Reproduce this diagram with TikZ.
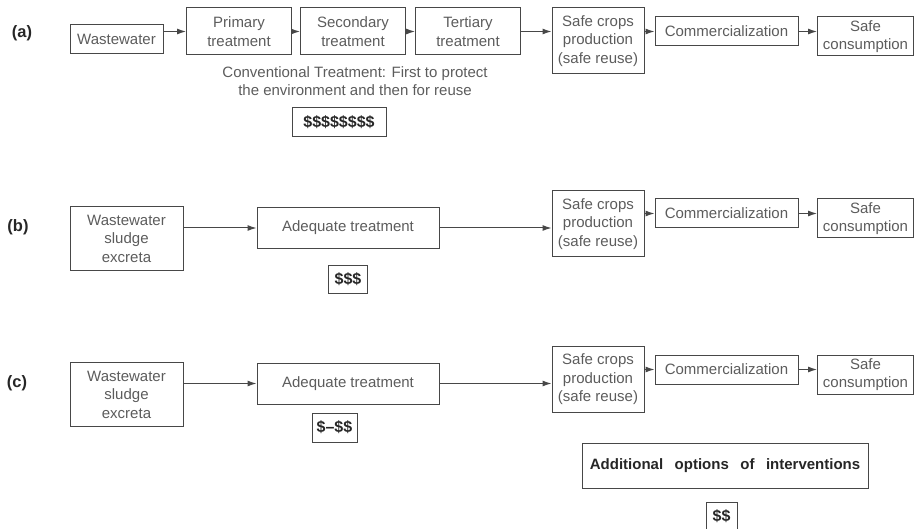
\documentclass[tikz,border=0pt]{standalone}
\usepackage{fontspec}
\setmainfont{Liberation Sans}
\usepackage{tikz}
\usetikzlibrary{positioning, arrows.meta}

\definecolor{boxline}{HTML}{474747}
\definecolor{boxtext}{HTML}{5C5C5C}

\tikzset{
  box/.style={draw=boxline, line width=1pt, inner sep=0pt, align=center,
    text=boxtext, font=\fontsize{15}{18.5}\selectfont},
  cost/.style={draw=boxline, line width=1pt, inner sep=0pt, minimum height=28pt,
    text=black!85, font=\bfseries\fontsize{16}{18}\selectfont},
  tag/.style={text=black!85, font=\bfseries\fontsize{16.5}{18}\selectfont},
  flow/.style={-{Latex[length=9pt,width=6pt]}, draw=boxline, line width=1pt},
  wse/.style={box, minimum width=113pt, minimum height=64pt},
  adq/.style={box, minimum width=182pt, minimum height=41pt},
  crops/.style={box, minimum width=92pt, minimum height=66pt},
  comm/.style={box, minimum width=143pt, minimum height=29pt},
  cons/.style={box, minimum width=96pt, minimum height=39pt},
  treat/.style={box, minimum width=105pt, minimum height=47pt}
}

\begin{document}
\begin{tikzpicture}[x=1pt, y=-1pt]
   \useasboundingbox (0,0) rectangle (915,529);
   % (a) conventional chain
   \node[tag] (tag_a) at (22,33) {(a)};
   \node[box, minimum width=93pt, minimum height=29pt] (ww_a) at (116.5,39.5) {Wastewater};
   \node[treat] (prim_a) at (239,31.5) {Primary\\treatment};
   \node[treat] (sec_a) at (353,31.5) {Secondary\\treatment};
   \node[treat] (ter_a) at (468,31.5) {Tertiary\\treatment};
   \node[crops] (crops_a) at (598,41) {Safe crops\\production\\(safe reuse)};
   \node[comm] (comm_a) at (726.5,31.5) {Commercialization};
   \node[cons] (cons_a) at (865.5,36.5) {Safe\\consumption};
   \node[text=boxtext, align=center, font=\fontsize{15}{17.5}\selectfont] (conv_a) at (355,81)
      {Conventional Treatment: First to protect\\the environment and then for reuse};
   \node[cost, minimum width=94pt, minimum height=29pt] (cost_a) at (339,122.5) {\$\$\$\$\$\$\$\$};

   % (b) adequate treatment
   \node[tag] (tag_b) at (18,227) {(b)};
   \node[wse] (wse_b) at (126.5,238.5) {Wastewater\\sludge\\excreta};
   \node[adq] (adq_b) at (348,228) {Adequate treatment};
   \node[cost, minimum width=39pt, below=16pt of adq_b] (cost_b) {\$\$\$};
   \node[crops] (crops_b) at (598,224) {Safe crops\\production\\(safe reuse)};
   \node[comm] (comm_b) at (726.5,213.5) {Commercialization};
   \node[cons] (cons_b) at (865.5,218.5) {Safe\\consumption};

   % (c) adequate treatment plus interventions
   \node[tag] (tag_c) at (17,383) {(c)};
   \node[wse] (wse_c) at (126.5,394.5) {Wastewater\\sludge\\excreta};
   \node[adq] (adq_c) at (348,383.5) {Adequate treatment};
   \node[cost, minimum width=45pt, minimum height=29pt] (cost_c) at (334.5,427.5) {\$--\$\$};
   \node[crops] (crops_c) at (598,379.5) {Safe crops\\production\\(safe reuse)};
   \node[comm] (comm_c) at (726.5,369.5) {Commercialization};
   \node[cons] (cons_c) at (865.5,374.5) {Safe\\consumption};
   \node[cost, minimum width=286pt, minimum height=45pt, font=\bfseries\fontsize{15}{18}\selectfont] (extra_c) at (725,465.5)
      {Additional\hspace{11.5pt}options\hspace{11.5pt}of\hspace{11.5pt}interventions};
   \node[cost, minimum width=31pt] (cost_d) at (721.5,516) {\$\$};

   % connectors
   \draw[flow] (ww_a.east |- prim_a.west) -- (prim_a.west);
   \draw[flow] (prim_a.east) -- (sec_a.west);
   \draw[flow] (sec_a.east) -- (ter_a.west);
   \draw[flow] (ter_a.east) -- (ter_a.east -| crops_a.west);
   \draw[flow] (crops_a.east |- comm_a.west) -- (comm_a.west);
   \draw[flow] (comm_a.east) -- (comm_a.east -| cons_a.west);
   \draw[flow] (wse_b.east |- adq_b.west) -- (adq_b.west);
   \draw[flow] (adq_b.east) -- (adq_b.east -| crops_b.west);
   \draw[flow] (crops_b.east |- comm_b.west) -- (comm_b.west);
   \draw[flow] (comm_b.east) -- (comm_b.east -| cons_b.west);
   \draw[flow] (wse_c.east |- adq_c.west) -- (adq_c.west);
   \draw[flow] (adq_c.east) -- (adq_c.east -| crops_c.west);
   \draw[flow] (crops_c.east |- comm_c.west) -- (comm_c.west);
   \draw[flow] (comm_c.east) -- (comm_c.east -| cons_c.west);
\end{tikzpicture}
\end{document}
